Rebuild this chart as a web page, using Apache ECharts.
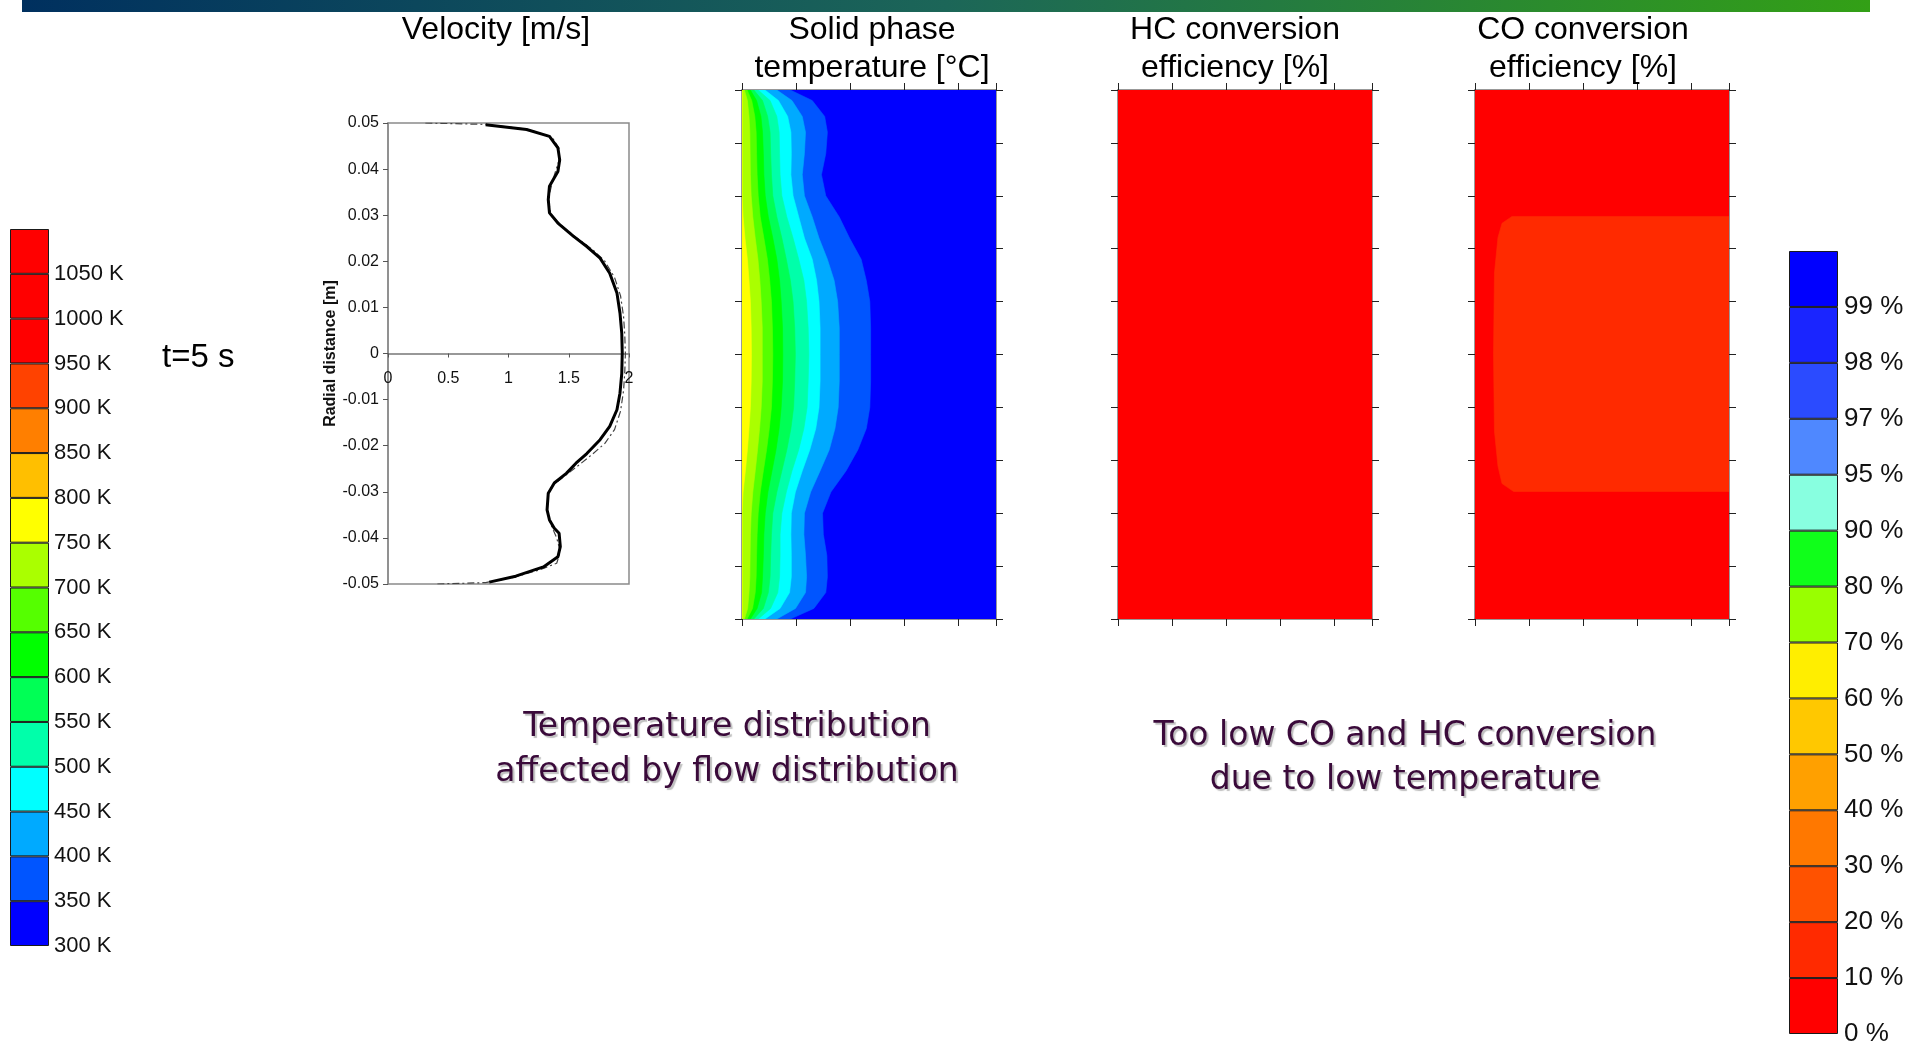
<!DOCTYPE html>
<html>
<head>
    <meta charset="utf-8">
    <title>t=5 s profiles</title>
    <script src="https://cdn.jsdelivr.net/npm/echarts@6.0.0/dist/echarts.min.js"></script>
    <style>
        body { margin: 0; background: #fff; }
        #chart { width: 1925px; height: 1047px; }
    </style>
</head>
<body>
    <div id="chart"></div>
    <script>
        // ---- colour scales ----
        var tempTicks = ['300 K', '350 K', '400 K', '450 K', '500 K', '550 K', '600 K', '650 K',
                         '700 K', '750 K', '800 K', '850 K', '900 K', '950 K', '1000 K', '1050 K'];
        var tempColors = ['#0000ff', '#0055ff', '#00aaff', '#00ffff', '#00ffaa', '#00ff55', '#00ff00', '#55ff00',
                          '#aaff00', '#ffff00', '#ffbf00', '#ff7f00', '#ff4200', '#ff0000', '#ff0000', '#ff0000'];
        var pctTicks = ['0 %', '10 %', '20 %', '30 %', '40 %', '50 %', '60 %', '70 %',
                        '80 %', '90 %', '95 %', '97 %', '98 %', '99 %'];
        var pctColors = ['#ff0000', '#ff2a00', '#ff5200', '#ff7800', '#ffa000', '#ffc800', '#ffee00',
                         '#99ff00', '#10ff1a', '#88ffe0', '#4f88ff', '#2b4bff', '#1a25ff', '#0000ff'];

        // ---- velocity profile (m/s vs radial distance m) ----
        var velSolidV = [0.81, 1.15, 1.34, 1.41, 1.425, 1.41, 1.38, 1.34, 1.33, 1.34,
                         1.41, 1.54, 1.65, 1.76, 1.84, 1.90, 1.925, 1.94, 1.944,
                         1.94, 1.925, 1.90, 1.84, 1.76, 1.65, 1.56, 1.48, 1.38, 1.33,
                         1.32, 1.34, 1.38, 1.42, 1.43, 1.41, 1.29, 1.06, 0.84];
        var velSolidR = [0.0496, 0.0486, 0.0471, 0.0446, 0.0420, 0.0395, 0.0381, 0.0363, 0.0334, 0.0305,
                         0.0283, 0.0254, 0.0232, 0.0207, 0.0174, 0.0131, 0.0088, 0.0044, 0.0001,
                         -0.0043, -0.0086, -0.0122, -0.0158, -0.0187, -0.0217, -0.0238, -0.0260, -0.0281, -0.0303,
                         -0.0339, -0.0361, -0.0379, -0.0390, -0.0419, -0.0441, -0.0463, -0.0483, -0.0496];
        var velDashV = [0.31, 0.81, 1.15, 1.36, 1.42, 1.42, 1.37, 1.33, 1.35, 1.43,
                        1.56, 1.70, 1.80, 1.88, 1.93, 1.955, 1.965, 1.97, 1.965, 1.955,
                        1.93, 1.88, 1.80, 1.68, 1.57, 1.47, 1.38, 1.33, 1.32, 1.35,
                        1.40, 1.43, 1.40, 1.25, 1.05, 0.81, 0.41];
        var velDashR = [0.05, 0.0497, 0.0487, 0.0470, 0.0445, 0.042, 0.0378, 0.0335, 0.0303, 0.0280,
                        0.0252, 0.0225, 0.0200, 0.0165, 0.0125, 0.008, 0.004, 0, -0.004, -0.008,
                        -0.0125, -0.0165, -0.0195, -0.0222, -0.0245, -0.0265, -0.0283, -0.0305, -0.034, -0.037,
                        -0.040, -0.043, -0.0455, -0.0470, -0.0485, -0.0497, -0.05];

        // ---- solid temperature isotherms: axial position (mm) at each radial sample (mm) ----
        var radialMm = [50, 48, 45, 42, 38, 34, 30, 26, 22, 18, 14, 10, 5, 0, -5, -10, -14, -18, -22, -26, -30, -34, -38, -42, -45, -48, -50];
        var iso350 = [17.9, 26, 30.6, 31.6, 31, 29.4, 31, 36, 39.8, 44.1, 46, 47.3, 47.6, 47.6, 47.6, 47.3, 46, 42.9, 38.5, 32.9, 29.8, 30.1, 31.4, 31.6, 31, 26.6, 17.9];
        var iso400 = [12.9, 18.5, 22.3, 23.5, 23.1, 22.3, 23.1, 26, 28.5, 31.6, 34.1, 35.4, 36, 36, 36, 35.6, 34.4, 32.3, 28.9, 25.4, 23.1, 22.9, 23.5, 23.9, 23.5, 19.8, 12.9];
        var iso450 = [8.5, 13.5, 16.9, 18.1, 18.25, 18.1, 18.9, 21, 23.1, 26, 27.6, 28.5, 28.9, 28.9, 28.9, 28.5, 27.3, 25.1, 22.3, 19.75, 18.25, 18.1, 18.25, 18.25, 17.6, 14.1, 8.5];
        var iso500 = [6, 10.4, 12.9, 13.75, 13.9, 14.1, 14.75, 16.6, 18.9, 21, 22.9, 23.9, 24.5, 24.75, 24.5, 24.1, 22.9, 21, 18.5, 16.4, 14.75, 14.1, 14.1, 13.9, 13.25, 10.6, 6];
        var iso550 = [4.4, 7.6, 9.5, 10.4, 10.6, 10.9, 11.4, 12.9, 14.75, 16.4, 17.9, 18.9, 19.5, 19.75, 19.5, 19.1, 18.1, 16.6, 14.75, 12.9, 11.4, 10.9, 10.6, 10.4, 9.75, 7.9, 4.4];
        var iso600 = [3.1, 5.4, 7, 7.6, 7.9, 8.1, 8.6, 9.75, 11.4, 12.9, 13.9, 14.5, 15, 15.1, 15, 14.5, 13.75, 12.6, 11.1, 9.6, 8.6, 8.1, 7.9, 7.6, 7.25, 5.6, 3.1];
        var iso650 = [1.9, 3.6, 4.75, 5.25, 5.4, 5.6, 6, 6.75, 8.1, 9.4, 10.25, 10.9, 11.25, 11.4, 11.25, 10.9, 10.1, 9.1, 7.9, 6.75, 6, 5.6, 5.4, 5.25, 4.9, 3.9, 1.9];
        var iso700 = [0.9, 2, 2.6, 2.9, 3, 3.1, 3.4, 4, 4.9, 5.9, 6.6, 7.1, 7.5, 7.5, 7.5, 7.1, 6.5, 5.75, 4.9, 4, 3.4, 3.1, 3, 2.9, 2.6, 2.1, 0.9];
        var iso750 = [0, 0, 0, 0, 0, 0, 0, 0.4, 1.1, 2, 2.6, 3.1, 3.4, 3.5, 3.4, 3.1, 2.6, 2, 1.25, 0.4, 0, 0, 0, 0, 0, 0, 0];

        // ---- CO conversion: outline of the 10-20 % zone (mm) ----
        var coZoneX = [94, 13.7, 10, 8.5, 7.2, 6.85, 7.2, 8.5, 10, 14.3, 94];
        var coZoneY = [26.1, 26.1, 24.8, 22.1, 15.4, 0, -14.5, -21.1, -24.4, -25.9, -25.9];

        var axialMax = 94;
        var font = 'Liberation Sans, Arial, sans-serif';

        var chart = echarts.init(document.getElementById('chart'));

        var box = [[0, 50], [axialMax, 50], [axialMax, -50], [0, -50]];
        function isoPolygon(xs) {
            var pts = [[0, 50]];
            xs.forEach(function (x, i) { pts.push([x, radialMm[i]]); });
            pts.push([0, -50]);
            return pts;
        }

        var tempPolys = [{ pts: box, color: tempColors[0] }];
        [iso350, iso400, iso450, iso500, iso550, iso600, iso650, iso700, iso750].forEach(function (xs, k) {
            tempPolys.push({ pts: isoPolygon(xs), color: tempColors[k + 1] });
        });
        var hcPolys = [{ pts: box, color: pctColors[0] }];
        var coPolys = [{ pts: box, color: pctColors[0] },
                       { pts: coZoneX.map(function (x, i) { return [x, coZoneY[i]]; }), color: pctColors[1] }];

        function polySeries(idx, polys) {
            return {
                type: 'custom',
                xAxisIndex: idx.x, yAxisIndex: idx.y,
                clip: true, silent: true,
                data: polys.map(function (p, i) { return [p.pts[0][0], p.pts[0][1], i]; }),
                renderItem: function (params, api) {
                    var p = polys[params.dataIndex];
                    return {
                        type: 'polygon',
                        z2: params.dataIndex,
                        shape: { points: p.pts.map(function (q) { return api.coord(q); }) },
                        style: { fill: p.color, stroke: p.color, lineWidth: 0.6 }
                    };
                }
            };
        }

        // contour panels
        var panels = [
            { left: 742, title: 'Solid phase\ntemperature [°C]', cx: 872, polys: tempPolys },
            { left: 1118, title: 'HC conversion\nefficiency [%]', cx: 1235, polys: hcPolys },
            { left: 1475, title: 'CO conversion\nefficiency [%]', cx: 1583, polys: coPolys }
        ];

        var velH = 461;
        var grids = [{ left: 388, top: 123, width: 241, height: velH, show: true, borderColor: '#8a8a8a', borderWidth: 1.5 }];
        var xAxes = [{
            type: 'value', gridIndex: 0, min: 0, max: 2, interval: 0.5,
            position: 'bottom', offset: -velH / 2,
            axisLine: { onZero: false, lineStyle: { color: '#777', width: 1.5 } },
            axisTick: { length: 4, lineStyle: { color: '#555' } },
            axisLabel: { fontSize: 16, color: '#111', margin: 17, fontFamily: font },
            splitLine: { show: false }
        }];
        var yAxes = [{
            type: 'value', gridIndex: 0, min: -0.05, max: 0.05, interval: 0.01,
            name: 'Radial distance [m]', nameLocation: 'middle', nameGap: 41, nameRotate: 90,
            nameTextStyle: { fontSize: 16, fontWeight: 'bold', color: '#111', fontFamily: font },
            axisLine: { lineStyle: { color: '#8a8a8a', width: 1.5 } },
            axisTick: { length: 5, lineStyle: { color: '#555' } },
            axisLabel: {
                fontSize: 16, color: '#111', margin: 9, fontFamily: font,
                formatter: function (v) { return Math.abs(v) < 1e-9 ? '0' : v.toFixed(2); }
            },
            splitLine: { show: false }
        }];
        var series = [
            {
                type: 'line', xAxisIndex: 0, yAxisIndex: 0, showSymbol: false, silent: true,
                data: velDashV.map(function (v, i) { return [v, velDashR[i]]; }),
                lineStyle: { color: '#444', width: 1.2, type: [7, 3, 2, 3] }
            },
            {
                type: 'line', xAxisIndex: 0, yAxisIndex: 0, showSymbol: false, silent: true,
                data: velSolidV.map(function (v, i) { return [v, velSolidR[i]]; }),
                lineStyle: { color: '#000', width: 3 }
            }
        ];

        panels.forEach(function (p) {
            var gi = grids.length;
            grids.push({ left: p.left, top: 90, width: 254, height: 529 });
            var xi = xAxes.length, yi = yAxes.length;
            ['bottom', 'top'].forEach(function (pos) {
                xAxes.push({
                    type: 'value', gridIndex: gi, position: pos, min: 0, max: axialMax, interval: 20,
                    axisLine: { show: true, onZero: false, lineStyle: { color: '#777', width: 1.5 } },
                    axisTick: { show: true, length: 7, lineStyle: { color: '#222' } },
                    axisLabel: { show: false }, splitLine: { show: false }
                });
            });
            ['left', 'right'].forEach(function (pos) {
                yAxes.push({
                    type: 'value', gridIndex: gi, position: pos, min: -50, max: 50, interval: 10,
                    axisLine: { show: true, onZero: false, lineStyle: { color: '#777', width: 1.5 } },
                    axisTick: { show: true, length: 7, lineStyle: { color: '#222' } },
                    axisLabel: { show: false }, splitLine: { show: false }
                });
            });
            series.push(polySeries({ x: xi, y: yi }, p.polys));
        });

        // colour bars
        function colorBar(left, top, width, height, colors, ticks, fontSize, margin) {
            var gi = grids.length;
            grids.push({ left: left, top: top, width: width, height: height });
            var xi = xAxes.length, yi = yAxes.length;
            xAxes.push({ type: 'category', gridIndex: gi, data: ['c'], show: false });
            yAxes.push({
                type: 'value', gridIndex: gi, position: 'right', min: 0, max: colors.length, interval: 1,
                axisLine: { show: false }, axisTick: { show: false }, splitLine: { show: false },
                axisLabel: {
                    fontSize: fontSize, color: '#111', margin: margin, fontFamily: font,
                    formatter: function (v) { return ticks[v] || ''; }
                }
            });
            colors.forEach(function (c) {
                series.push({
                    type: 'bar', xAxisIndex: xi, yAxisIndex: yi, stack: 'bar' + gi, barWidth: '100%', silent: true,
                    data: [1], itemStyle: { color: c, borderColor: '#1a1a1a', borderWidth: 1 }
                });
            });
        }
        colorBar(10, 229, 39, 717, tempColors, tempTicks, 22, 5);
        colorBar(1789, 251, 49, 786, pctColors, pctTicks, 26, 6);

        var titles = [{ text: 'Velocity [m/s]', left: 496 }].concat(panels.map(function (p) {
            return { text: p.title, left: p.cx };
        })).map(function (t) {
            return {
                text: t.text, left: t.left, top: 11, textAlign: 'center', padding: 0,
                textStyle: { fontSize: 32, fontWeight: 'normal', color: '#000', fontFamily: font, lineHeight: 38 }
            };
        });

        var noteStyle = {
            font: '33px "DejaVu Sans", Tahoma, sans-serif', fill: '#3a0a3a',
            textAlign: 'center', textVerticalAlign: 'middle',
            textShadowColor: 'rgba(0,0,0,0.25)', textShadowOffsetX: 2, textShadowOffsetY: 2, textShadowBlur: 1
        };
        function note(text, x, y) {
            return { type: 'text', x: x, y: y, silent: true, style: Object.assign({ text: text }, noteStyle) };
        }

        var option = {
            animation: false,
            title: titles,
            grid: grids,
            xAxis: xAxes,
            yAxis: yAxes,
            series: series,
            graphic: [
                {
                    type: 'rect', shape: { x: 22, y: 0, width: 1848, height: 12 }, silent: true,
                    style: {
                        fill: new echarts.graphic.LinearGradient(0, 0, 1, 0, [
                            { offset: 0, color: '#00305f' },
                            { offset: 0.5, color: '#1c6658' },
                            { offset: 1, color: '#33a016' }
                        ])
                    }
                },
                {
                    type: 'text', x: 162, y: 358, silent: true,
                    style: { text: 't=5 s', font: '33px ' + font, fill: '#000', textVerticalAlign: 'middle' }
                },
                note('Temperature distribution', 727, 727),
                note('affected by flow distribution', 727, 772),
                note('Too low CO and HC conversion', 1405, 736),
                note('due to low temperature', 1405, 780)
            ]
        };

        chart.setOption(option);
    </script>
</body>
</html>
